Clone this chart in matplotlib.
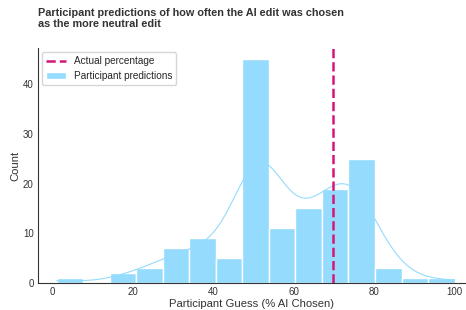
import matplotlib
matplotlib.use("Agg")
import matplotlib.pyplot as plt
import seaborn as sns

# Participant guesses (% of times they think the AI edit was chosen)
guesses = (
    [1]
    + [16, 20]
    + [22, 25, 26]
    + [28, 30, 30, 30, 32, 33, 33]
    + [35, 36, 37, 38, 40, 40, 40, 40, 40]
    + [42, 44, 45, 45, 46]
    + [50] * 22 + [51] * 5 + [52] * 8 + [53] * 10
    + [55, 55, 56, 57, 57, 58, 59, 60, 60, 60, 60]
    + [62, 62, 63, 64, 64, 65, 65, 65, 65, 65, 66, 66, 66, 66, 66]
    + [68, 69, 70, 70, 70, 70, 70, 70, 70, 71, 71, 72, 72, 72, 73, 73, 73, 73, 73]
    + [75] * 14 + [76, 76, 77, 77, 78, 78, 79, 80, 80, 80, 80]
    + [82, 85, 85]
    + [90]
    + [100]
)
actual_pct = 69.7
n_bins = 15

sns.set_style("white")
plt.rcParams["font.family"] = ["Liberation Sans", "DejaVu Sans"]

fig = plt.figure(figsize=(4.66, 3.10), dpi=100)
ax = fig.add_axes([0.081, 0.087, 0.917, 0.758])

sns.histplot(guesses, bins=n_bins, kde=True, color="#94dbfd", alpha=1,
             edgecolor="white", linewidth=1, ax=ax,
             line_kws={"linewidth": 0.8},
             label="Participant predictions")
ax.axvline(actual_pct, color="#d6157a", linestyle="--", linewidth=1.8,
           label="Actual percentage")

ax.set_xlim(-3.7, 102.6)
ax.set_xlabel("Participant Guess (% AI Chosen)", fontsize=8.1, color="#333333", labelpad=1)
ax.set_ylabel("Count", fontsize=8.1, color="#333333", labelpad=2)
ax.tick_params(labelsize=7, colors="#333333", length=0, pad=3)
for s in ["left", "bottom"]:
    ax.spines[s].set_color("#333333")
sns.despine(ax=ax)

handles, labels = ax.get_legend_handles_labels()
order = [labels.index("Actual percentage"), labels.index("Participant predictions")]
ax.legend([handles[i] for i in order], [labels[i] for i in order],
          loc="upper left", fontsize=7.2, frameon=True, borderaxespad=0.4)

ax.set_title("Participant predictions of how often the AI edit was chosen\nas the more neutral edit",
             loc="left", fontsize=7.8, fontweight="bold", color="#333333", pad=15)

fig.savefig("out.png", dpi=100)
